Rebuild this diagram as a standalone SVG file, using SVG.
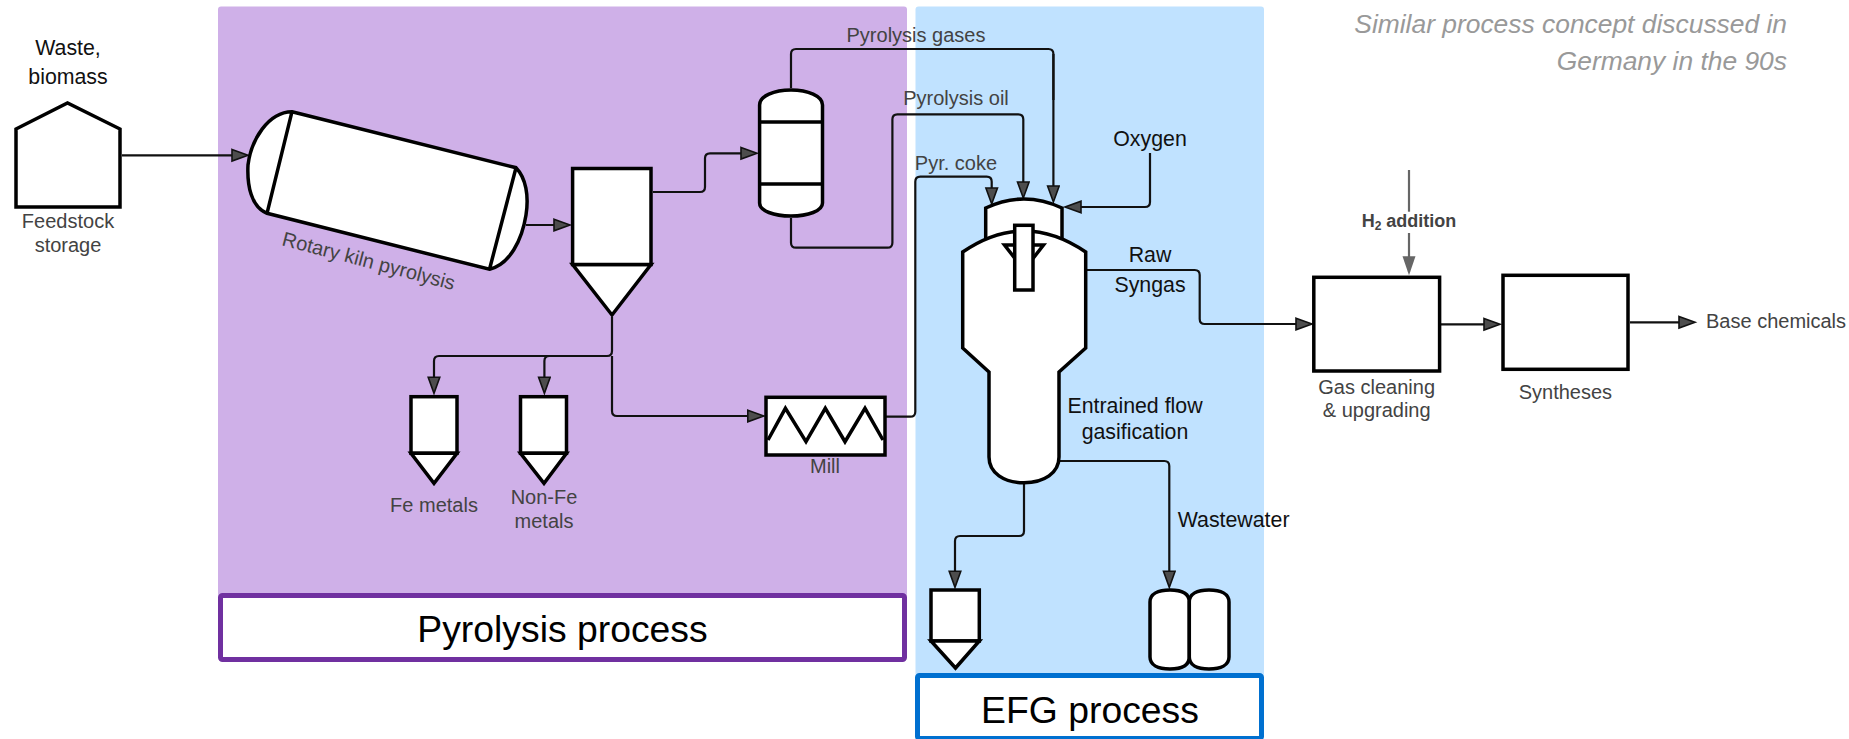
<svg xmlns="http://www.w3.org/2000/svg" width="1849" height="739" viewBox="0 0 1849 739">
<style>
text{font-family:"Liberation Sans",Arial,sans-serif;font-size:20px;fill:#434343}
.k{font-size:21.33px;fill:#111}
.m{text-anchor:middle}
.big{font-size:37.33px;fill:#000;text-anchor:middle}
.n{fill:#fff;stroke:#000;stroke-width:3.5;stroke-linejoin:miter}
.c{fill:none;stroke:#111;stroke-width:2.2;marker-end:url(#a)}
.p{fill:none;stroke:#111;stroke-width:2.2}
.g{fill:none;stroke:#666;stroke-width:2.2}
</style>
<defs>
<marker id="a" markerUnits="userSpaceOnUse" markerWidth="20" markerHeight="16" refX="14" refY="7" orient="auto"><polygon points="1,1.2 17,7 1,12.8" fill="#4d4d4d" stroke="#111" stroke-width="1.6"/></marker>
<marker id="b" markerUnits="userSpaceOnUse" markerWidth="22" markerHeight="20" refX="16" refY="7" orient="auto"><polygon points="0,0.5 19,7 0,13.5" fill="#666"/></marker>
</defs>
<g id="panels">
<rect x="218" y="6.5" width="689" height="600" rx="3" fill="#cfb0e8"/>
<rect x="915.5" y="6.5" width="348.5" height="680" rx="3" fill="#c0e2ff"/>
</g>
<g id="connectors">
<path class="c" d="M122 155.3H245"/>
<path class="c" d="M526 225H567"/>
<path class="c" d="M653 192H700Q705 192 705 187V158.3Q705 153.3 710 153.3H754"/>
<path class="p" d="M791 88V54Q791 49 796 49H1048.4Q1053.4 49 1053.4 54V100"/>
<path class="c" d="M1053.4 54V199"/>
<path class="c" d="M791 218V242.7Q791 247.7 796 247.7H887.4Q892.4 247.7 892.4 242.7V119.3Q892.4 114.3 897.4 114.3H1018.3Q1023.3 114.3 1023.3 119.3V195"/>
<path class="c" d="M885 416.7H910.3Q915.3 416.7 915.3 411.7V181.7Q915.3 176.7 920.3 176.7H986.7Q991.7 176.7 991.7 181.7V201"/>
<path class="c" d="M1150 153V202Q1150 207 1145 207H1068"/>
<path class="c" d="M1087 270H1194.7Q1199.7 270 1199.7 275V319Q1199.7 324 1204.7 324H1309"/>
<path class="c" d="M1441 324.3H1497"/>
<path class="c" d="M1630 322.3H1692"/>
<path class="g" d="M1409 170V211.7"/>
<path class="g" d="M1409 233V272.3" marker-end="url(#b)"/>
<path class="c" d="M612 317V351Q612 356 607 356H439Q434 356 434 361V390.3"/>
<path class="c" d="M549.4 356Q544.4 356 544.4 361V390.3"/>
<path class="c" d="M612 356V411Q612 416 617 416H760.8"/>
<path class="c" d="M1024 484V531Q1024 536 1019 536H960Q955 536 955 541V584.3"/>
<path class="c" d="M1060 461H1164.3Q1169.3 461 1169.3 466V584.3"/>
</g>
<g id="feedstock"><polygon class="n" points="16,129 67.5,103 120,129 120,207 16,207"/></g>
<g id="kiln">
<path class="n" d="M292 111.7L516 167.7C526 178 529 196 526 215C522 240 510 264 489.5 269.3L267 213.3C251 207 247 185 248 165C251 140 268 112 292 111.7Z"/>
<path class="n" d="M292 111.7L267 213.3M516 167.7L489.5 269.3" fill="none"/>
</g>
<g id="separator">
<polygon class="n" points="572.6,264.5 651,264.5 612,315"/>
<rect class="n" x="572.6" y="168.5" width="78.4" height="96"/>
</g>
<g id="column">
<path class="n" d="M759.6 105C759.6 96 774 90 791 90C808 90 822.5 96 822.5 105V203C822.5 211 808 216 791 216C774 216 759.6 211 759.6 203Z"/>
<path class="n" d="M759.6 122H822.5M759.6 184H822.5"/>
</g>
<g id="fe-bin">
<rect class="n" x="411" y="396.7" width="46" height="56.6"/>
<polygon class="n" points="411,453.3 457,453.3 434,483.3"/>
</g>
<g id="nonfe-bin">
<rect class="n" x="520.5" y="396.7" width="46" height="56.6"/>
<polygon class="n" points="520.5,453.3 566.5,453.3 544,483.3"/>
</g>
<g id="mill">
<rect class="n" x="766" y="397.3" width="119" height="57.7"/>
<path class="n" style="fill:none" d="M768 440L785.4 408.3L806 441.7L825.3 408.3L845 441.7L865 408.3L883 440"/>
</g>
<g id="gasifier">
<path class="n" d="M985.7 240V208Q1024 190 1062 208V240Z"/>
<path class="n" d="M962.7 252Q1024 210 1085.7 252V348L1059 372V457C1059 473 1044 482.7 1024 482.7C1004 482.7 989 473 989 457V372L962.7 348Z"/>
<polygon class="n" points="1004.5,245 1043.5,245 1024,270"/>
<rect class="n" x="1014.7" y="225.3" width="18.3" height="64.7"/>
</g>
<g id="gas-cleaning"><rect class="n" x="1313.8" y="277.3" width="125.8" height="93.7"/></g>
<g id="syntheses"><rect class="n" x="1503" y="275.3" width="125" height="94"/></g>
<g id="residue-bin">
<rect class="n" x="931" y="590" width="48.3" height="51"/>
<polygon class="n" points="931,641 979.3,641 955.5,668"/>
</g>
<g id="tanks">
<path class="n" d="M1150 602C1150 594 1158 590 1170 590C1182 590 1189.3 594 1189.3 602V657C1189.3 665 1182 669 1170 669C1158 669 1150 665 1150 657Z"/>
<path class="n" d="M1189.3 602C1189.3 594 1197 590 1209 590C1221 590 1229 594 1229 602V657C1229 665 1221 669 1209 669C1197 669 1189.3 665 1189.3 657Z"/>
</g>
<g id="pyrolysis-label">
<rect x="220.5" y="595.5" width="684" height="64" rx="2" fill="#fff" stroke="#7030a0" stroke-width="5"/>
<text class="big" x="562.5" y="642">Pyrolysis process</text>
</g>
<g id="efg-label">
<rect x="917.5" y="675.5" width="344" height="63" rx="2" fill="#fff" stroke="#0070d0" stroke-width="5"/>
<text class="big" x="1090" y="722.5">EFG process</text>
</g>
<g id="labels">
<text class="k m" x="68" y="55" fill="#000">Waste,</text>
<text class="k m" x="68" y="83.5">biomass</text>
<text class="m" x="68" y="228">Feedstock</text>
<text class="m" x="68" y="252">storage</text>
<text x="281" y="245" transform="rotate(14.7 281 245)">Rotary kiln pyrolysis</text>
<text class="m" x="916" y="41.7">Pyrolysis gases</text>
<text class="m" x="956" y="105">Pyrolysis oil</text>
<text class="m" x="956" y="170">Pyr. coke</text>
<text class="k m" x="1150" y="145.7">Oxygen</text>
<text class="k m" x="1150" y="261.7">Raw</text>
<text class="k m" x="1150" y="291.7">Syngas</text>
<text class="k m" x="1135" y="412.8">Entrained flow</text>
<text class="k m" x="1135" y="438.8">gasification</text>
<text class="k" x="1177.7" y="527">Wastewater</text>
<text class="m" x="434" y="512.2">Fe metals</text>
<text class="m" x="544" y="503.5">Non-Fe</text>
<text class="m" x="544" y="528.2">metals</text>
<text class="m" x="825" y="473.3">Mill</text>
<text class="m" x="1376.7" y="393.5">Gas cleaning</text>
<text class="m" x="1376.7" y="417.2">&amp; upgrading</text>
<text class="m" x="1565.4" y="398.5">Syntheses</text>
<text x="1706" y="328">Base chemicals</text>
<text class="m" x="1409" y="226.7" style="font-size:18px;font-weight:700">H<tspan dy="3" style="font-size:12px">2</tspan><tspan dy="-3"> addition</tspan></text>
<text x="1787" y="32.5" text-anchor="end" style="font-size:26.4px;font-style:italic;fill:#999">Similar process concept discussed in</text>
<text x="1787" y="69.5" text-anchor="end" style="font-size:26.4px;font-style:italic;fill:#999">Germany in the 90s</text>
</g>
</svg>
